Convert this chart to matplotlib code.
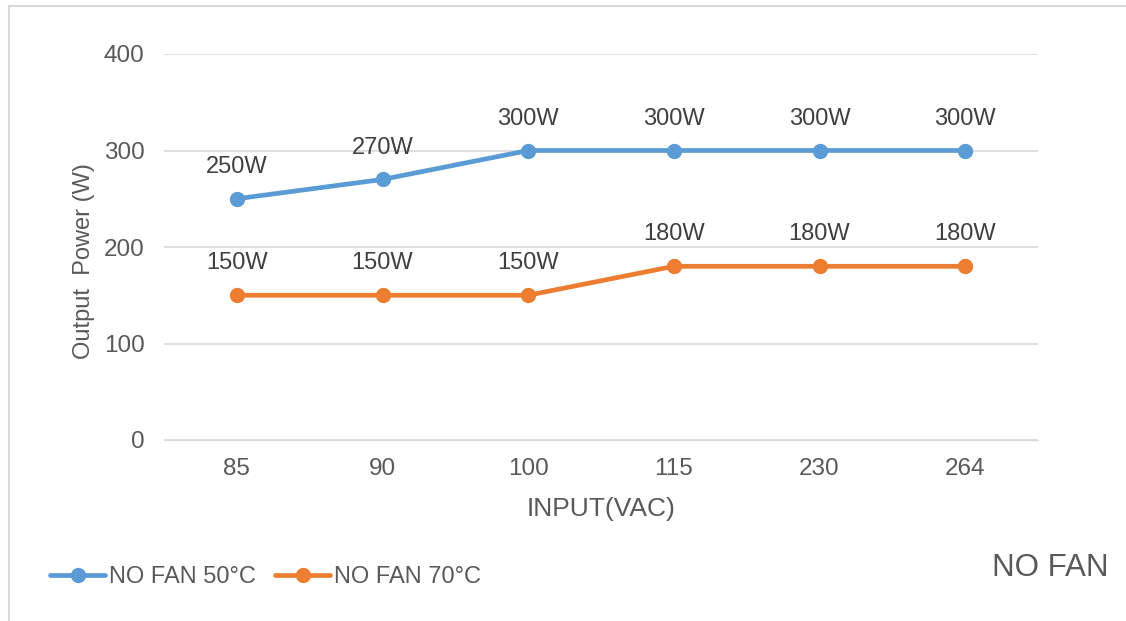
import matplotlib.pyplot as plt
from matplotlib.lines import Line2D

# --- data ---
input_vac = ["85", "90", "100", "115", "230", "264"]
power_50c = [250, 270, 300, 300, 300, 300]
power_70c = [150, 150, 150, 180, 180, 180]
series_names = ["NO FAN 50°C", "NO FAN 70°C"]

BLUE = "#5B9BD5"
ORANGE = "#ED7D31"
GRID = "#D9D9D9"
TEXT = "#595959"

plt.rcParams["font.family"] = ["Liberation Sans", "DejaVu Sans"]

W, H = 1126, 621
fig = plt.figure(figsize=(W / 100, H / 100), dpi=100)
ax = fig.add_axes([164 / W, 1 - 440 / H, (1038 - 164) / W, (440 - 54) / H])

x = range(len(input_vac))
lines = []
for vals, color in [(power_50c, BLUE), (power_70c, ORANGE)]:
    ln, = ax.plot(x, vals, color=color, lw=3.4, marker="o", ms=10,
                  solid_capstyle="round", zorder=3)
    lines.append(ln)
    for xi, v in zip(x, vals):
        ax.annotate(f"{v}W", (xi, v), xytext=(0, 23), textcoords="offset points",
                    ha="center", va="center", fontsize=17, color="#404040")

ax.set_xlim(-0.5, len(input_vac) - 0.5)
ax.set_ylim(0, 400)
ax.set_yticks([0, 100, 200, 300, 400])
ax.set_xticks(list(x))
ax.set_xticklabels(input_vac)
ax.grid(axis="y", color=GRID, lw=1.2)
ax.set_axisbelow(True)
for s in ax.spines.values():
    s.set_visible(False)
ax.spines["bottom"].set_visible(True)
ax.spines["bottom"].set_color(GRID)
ax.tick_params(length=0, labelsize=17.5, colors=TEXT, pad=13)
ax.tick_params(axis="y", pad=14)

ax.set_xlabel("INPUT(VAC)", fontsize=19, color=TEXT, labelpad=12)
ax.set_ylabel("Output  Power (W)", fontsize=17, color=TEXT)
# label sits a bit below the plot centre, as in the original
ax.yaxis.set_label_coords((95 - 164) / 874, (440 - 261) / 386)

fig.legend(lines, series_names, loc="center left", bbox_to_anchor=(50 / W, 1 - 577 / H),
           frameon=False, fontsize=17, labelcolor=TEXT, handlelength=2.35,
           handletextpad=0.15, columnspacing=0.8, ncol=2, borderaxespad=0,
           borderpad=0)

fig.text(1108 / W, 1 - 568 / H, "NO FAN", ha="right", va="center", fontsize=22.5, color=TEXT)

# outer chart border (cropped on right and bottom)
fig.add_artist(Line2D([8.5 / W, 8.5 / W], [0, 1 - 5.5 / H], color=GRID, lw=1.5))
fig.add_artist(Line2D([8.5 / W, 1], [1 - 5.5 / H, 1 - 5.5 / H], color=GRID, lw=1.5))

fig.savefig("out.png", dpi=100)
